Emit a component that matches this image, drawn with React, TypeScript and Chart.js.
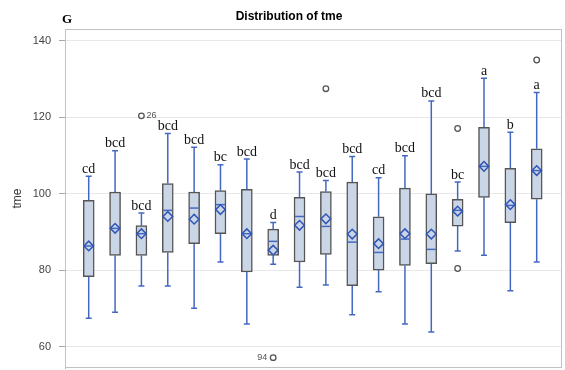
import React, { useEffect, useRef } from "react";
import { Chart, registerables } from "chart.js";

Chart.register(...registerables);

// Group positions along the (hidden) x axis
const groups = [1, 2, 3, 4, 5, 6, 7, 8, 9, 10, 11, 12, 13, 14, 15, 16, 17, 18];

// Five-number summaries per group
const lowWhisker = [67.5, 69.1, 75.9, 75.9, 70.1, 82.2, 66.0, 81.6, 75.6, 76.2, 68.4, 74.4, 66.0, 63.9, 85.1, 84.0, 74.7, 82.2];
const q1 = [78.4, 83.9, 83.9, 84.7, 87.0, 89.6, 79.6, 83.9, 82.2, 84.2, 76.0, 80.1, 81.3, 81.8, 91.6, 99.1, 92.5, 98.6];
const medians = [86.4, 91.0, 89.6, 95.7, 96.3, 97.2, 89.6, 87.6, 94.1, 91.5, 87.4, 84.7, 88.2, 85.5, 95.7, 107.2, 97.0, 106.1];
const q3 = [98.3, 100.5, 91.7, 102.7, 100.5, 100.9, 101.2, 90.8, 99.1, 100.6, 103.1, 94.0, 101.5, 100.0, 98.6, 117.4, 106.7, 111.8];
const highWhisker = [104.6, 111.3, 95.0, 115.8, 112.2, 107.6, 109.1, 92.5, 105.7, 103.5, 109.8, 104.2, 110.0, 124.3, 103.1, 130.2, 116.1, 126.5];
const means = [86.4, 91.0, 89.6, 94.1, 93.4, 95.9, 89.6, 85.3, 91.8, 93.5, 89.5, 87.0, 89.6, 89.5, 95.5, 107.2, 97.2, 106.1];

// Significance letters shown above each box
const letters = ["cd", "bcd", "bcd", "bcd", "bcd", "bc", "bcd", "d", "bcd", "bcd", "bcd", "cd", "bcd", "bcd", "bc", "a", "b", "a"];

// Outliers: group, value, observation label
const outlierGroup = [3, 8, 10, 15, 15, 18];
const outlierValue = [120.4, 57.2, 127.5, 117.1, 80.5, 135.0];
const outlierLabel = ["26", "94", "", "", "", ""];

const yTicks = [60, 80, 100, 120, 140];

const BOX_FILL = "#cad5e6";
const BOX_EDGE = "#555555";
const BLUE = "#4468c2";
const BOX_WIDTH = 11;

const clearPadding = (s: any) => {
  s.paddingTop = 0;
  s.paddingBottom = 0;
  s.paddingLeft = 0;
  s.paddingRight = 0;
};

const boxDecor = {
  id: "boxDecor",
  beforeDatasetsDraw(chart: any) {
    const { ctx, chartArea: a, scales } = chart;
    const xs = scales.x;
    const ys = scales.y;
    ctx.save();
    // plot frame
    ctx.strokeStyle = "#c2c2c2";
    ctx.lineWidth = 1;
    ctx.strokeRect(Math.round(a.left) + 0.5, Math.round(a.top) + 0.5, Math.round(a.width) - 1, Math.round(a.height) - 1);
    // whiskers with caps
    ctx.strokeStyle = BLUE;
    ctx.lineWidth = 1.5;
    groups.forEach((g, i) => {
      const x = xs.getPixelForValue(g);
      const yHi = ys.getPixelForValue(highWhisker[i]);
      const yQ3 = ys.getPixelForValue(q3[i]);
      const yQ1 = ys.getPixelForValue(q1[i]);
      const yLo = ys.getPixelForValue(lowWhisker[i]);
      ctx.beginPath();
      ctx.moveTo(x, yQ3);
      ctx.lineTo(x, yHi);
      ctx.moveTo(x - 3, yHi);
      ctx.lineTo(x + 3, yHi);
      ctx.moveTo(x, yQ1);
      ctx.lineTo(x, yLo);
      ctx.moveTo(x - 3, yLo);
      ctx.lineTo(x + 3, yLo);
      ctx.stroke();
    });
    ctx.restore();
  },
  afterDatasetDraw(chart: any, args: any) {
    if (args.index !== 0) return;
    const { ctx, scales } = chart;
    const xs = scales.x;
    const ys = scales.y;
    ctx.save();
    ctx.strokeStyle = BLUE;
    ctx.lineWidth = 1.5;
    groups.forEach((g, i) => {
      const x = xs.getPixelForValue(g);
      const y = ys.getPixelForValue(medians[i]);
      ctx.beginPath();
      ctx.moveTo(x - BOX_WIDTH / 2 + 1, y);
      ctx.lineTo(x + BOX_WIDTH / 2 - 1, y);
      ctx.stroke();
    });
    ctx.restore();
  },
  afterDraw(chart: any) {
    const { ctx, scales } = chart;
    const xs = scales.x;
    const ys = scales.y;
    ctx.save();
    // letters above whiskers
    ctx.fillStyle = "#111111";
    ctx.font = '14px "Liberation Serif", "Times New Roman", serif';
    ctx.textAlign = "center";
    ctx.textBaseline = "alphabetic";
    groups.forEach((g, i) => {
      const x = xs.getPixelForValue(g);
      const y = ys.getPixelForValue(highWhisker[i]);
      ctx.fillText(letters[i], x, y - 3.5);
    });
    // outlier labels
    ctx.fillStyle = "#555555";
    ctx.font = '9px "Liberation Sans", Arial, sans-serif';
    ctx.textBaseline = "middle";
    outlierGroup.forEach((g, i) => {
      const lbl = outlierLabel[i];
      if (!lbl) return;
      const x = xs.getPixelForValue(g);
      const y = ys.getPixelForValue(outlierValue[i]);
      if (g === 3) {
        ctx.textAlign = "left";
        ctx.fillText(lbl, x + 5, y);
      } else {
        ctx.textAlign = "right";
        ctx.fillText(lbl, x - 6, y);
      }
    });
    // panel letter and title
    ctx.fillStyle = "#000000";
    ctx.textAlign = "left";
    ctx.textBaseline = "alphabetic";
    ctx.font = 'bold 13px "Liberation Serif", "Times New Roman", serif';
    ctx.fillText("G", 62, 23);
    ctx.textAlign = "center";
    ctx.font = 'bold 12px "Liberation Sans", Arial, sans-serif';
    ctx.fillText("Distribution of tme", 289, 20);
    ctx.restore();
  },
};

export default function App() {
  const ref = useRef<HTMLCanvasElement | null>(null);

  useEffect(() => {
    document.body.style.margin = "0";
    const canvas = ref.current;
    if (!canvas) return;
    const chart = new Chart(canvas, {
      type: "bar",
      data: {
        datasets: [
          {
            type: "bar",
            label: "box",
            order: 3,
            data: groups.map((g, i) => ({ x: g, y: [q1[i], q3[i]] })) as any,
            backgroundColor: BOX_FILL,
            borderColor: BOX_EDGE,
            borderWidth: 1.5,
            borderSkipped: false,
            barThickness: BOX_WIDTH,
          } as any,
          {
            type: "scatter",
            label: "mean",
            order: 1,
            data: groups.map((g, i) => ({ x: g, y: means[i] })),
            pointStyle: "rectRot",
            pointRadius: 4.8,
            pointBorderColor: "#2f56b8",
            pointBorderWidth: 1.5,
            pointBackgroundColor: "rgba(0,0,0,0)",
          } as any,
          {
            type: "scatter",
            label: "outliers",
            order: 0,
            data: outlierGroup.map((g, i) => ({ x: g, y: outlierValue[i] })),
            pointStyle: "circle",
            pointRadius: 2.8,
            pointBorderColor: "#555555",
            pointBorderWidth: 1.3,
            pointBackgroundColor: "#ffffff",
          } as any,
        ],
      },
      options: {
        animation: false,
        responsive: false,
        layout: { autoPadding: false, padding: { top: 29, right: 3, bottom: 2, left: 0 } },
        plugins: {
          legend: { display: false },
          tooltip: { enabled: false },
          title: { display: false },
        },
        scales: {
          x: {
            type: "linear",
            min: 0.1,
            max: 18.96,
            offset: false,
            display: false,
            afterFit: clearPadding,
          },
          y: {
            type: "linear",
            min: 54.5,
            max: 143.1,
            afterBuildTicks: (s: any) => {
              s.ticks = yTicks.map((v) => ({ value: v }));
            },
            afterFit: (s: any) => {
              s.width = 65;
              clearPadding(s);
            },
            ticks: {
              color: "#444444",
              padding: 8,
              font: { family: '"Liberation Sans", Arial, sans-serif', size: 11 },
            },
            grid: {
              color: "#e8e8e8",
              tickColor: "#a8a8a8",
              tickLength: 6,
            },
            border: { color: "#b8b8b8" },
            title: {
              display: true,
              text: "tme",
              color: "#333333",
              font: { family: '"Liberation Sans", Arial, sans-serif', size: 12 },
              padding: { top: 10, bottom: 0 },
            },
          },
        },
      },
      plugins: [boxDecor],
    });
    return () => chart.destroy();
  }, []);

  return (
    <div style={{ width: 565, height: 370 }}>
      <canvas ref={ref} width={565} height={370} />
    </div>
  );
}
